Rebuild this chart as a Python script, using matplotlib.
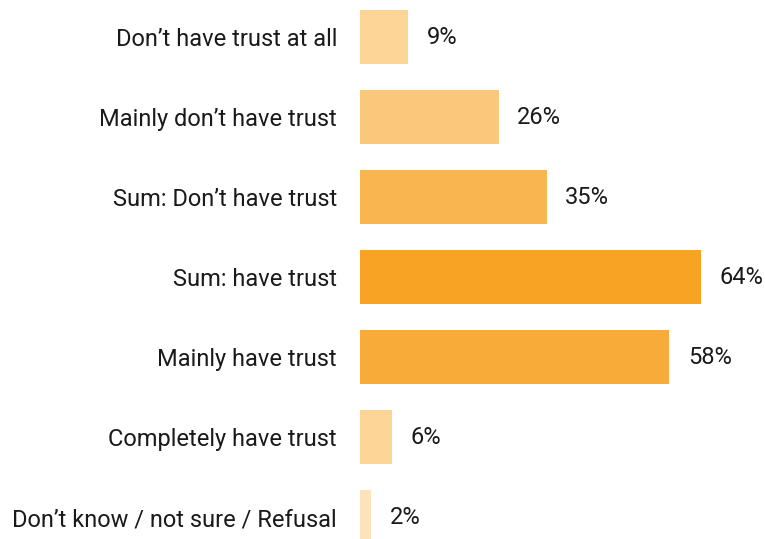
import matplotlib.pyplot as plt

plt.rcParams['font.family'] = ['Roboto', 'DejaVu Sans']

categories = ["Don\u2019t have trust at all", "Mainly don\u2019t have trust",
              "Sum: Don\u2019t have trust", "Sum: have trust", "Mainly have trust",
              "Completely have trust", "Don\u2019t know / not sure / Refusal"]
values = [9, 26, 35, 64, 58, 6, 2]
colors = ['#FCD597', '#FAC87A', '#F9B54F', '#F8A323', '#F8AB38', '#FCD597', '#FCE3BC']

fig = plt.figure(figsize=(7.65, 5.39), dpi=100)
ax = fig.add_axes([360 / 765, 0, 405 / 765, 1])

ypos = list(range(len(categories)))
ax.barh(ypos, values, height=0.67, color=colors)

for y, v in zip(ypos, values):
    ax.annotate(f'{v}%', (v, y), xytext=(13.5, 0), textcoords='offset points',
                va='center', ha='left', fontsize=17, color='#1a1a1a')

ax.set_xlim(0, 405 / 5.33)
ax.set_ylim(6.275, -0.4625)
ax.set_yticks(ypos)
ax.set_yticklabels(categories, fontsize=17, color='#1a1a1a')
ax.tick_params(axis='y', length=0, pad=16.5)
ax.set_xticks([])
for s in ax.spines.values():
    s.set_visible(False)

fig.savefig('out.png', dpi=100)
